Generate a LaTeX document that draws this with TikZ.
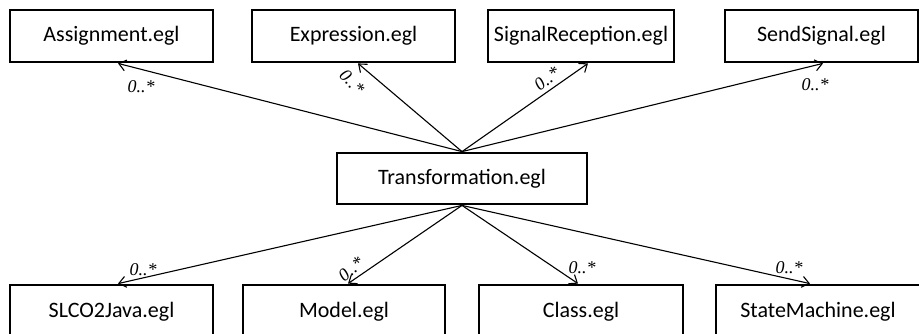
\documentclass[tikz,border=0pt]{standalone}
\usepackage{fontspec}
\setmainfont{Carlito}
\newfontfamily\lblfont{Liberation Serif}
\usetikzlibrary{arrows.meta}
\begin{document}
\begin{tikzpicture}[x=1pt,y=-1pt,
  box/.style={draw=black,line width=2.8pt,rectangle,minimum height=52pt,inner sep=0pt,font=\fontsize{22}{25}\selectfont},
  conn/.style={line width=1.1pt,-{Straight Barb[length=7pt,width=11pt,line width=1.1pt]}},
  mult/.style={font=\lblfont\itshape\fontsize{18}{20}\selectfont,inner sep=0pt}]
\clip (0,0) rectangle (919,333);
\node[box,minimum width=203pt] (asg) at (111.5,36) {Assignment.egl};
\node[box,minimum width=203pt] (expr) at (353.5,36) {Expression.egl};
\node[box,minimum width=186pt] (sigr) at (581,36) {SignalReception.egl};
\node[box,minimum width=193pt] (send) at (821.5,36) {SendSignal.egl};
\node[box,minimum width=250pt,minimum height=51pt] (trans) at (462,178.5) {Transformation.egl};
\node[box,minimum width=203pt,minimum height=54pt] (slco) at (111.5,312) {SLCO2Java.egl};
\node[box,minimum width=202pt,minimum height=54pt] (model) at (344,312) {Model.egl};
\node[box,minimum width=204pt,minimum height=54pt] (class) at (581,312) {Class.egl};
\node[box,minimum width=204pt,minimum height=54pt] (sm) at (818,312) {StateMachine.egl};
\draw[conn] (trans.north) -- ([xshift=6.5pt]asg.south);
\draw[conn] (trans.north) -- ([xshift=4.5pt]expr.south);
\draw[conn] (trans.north) -- ([xshift=7pt]sigr.south);
\draw[conn] (trans.north) -- ([xshift=1.5pt]send.south);
\draw[conn] (trans.south) -- ([xshift=6.5pt]slco.north);
\draw[conn] (trans.south) -- ([xshift=4pt]model.north);
\draw[conn] (trans.south) -- ([xshift=-3pt]class.north);
\draw[conn] (trans.south) -- ([xshift=-8pt]sm.north);
\node[mult] (m1) at (141,87) {0..*};
\node[mult,rotate=-45] (m2) at (352,82) {0..*};
\node[mult,rotate=38] (m3) at (547,79) {0..*};
\node[mult] (m4) at (815,85) {0..*};
\node[mult] (m5) at (143,270) {0..*};
\node[mult,rotate=40] (m6) at (351,269) {0..*};
\node[mult] (m7) at (582,268) {0..*};
\node[mult] (m8) at (789,268) {0..*};
\end{tikzpicture}
\end{document}
